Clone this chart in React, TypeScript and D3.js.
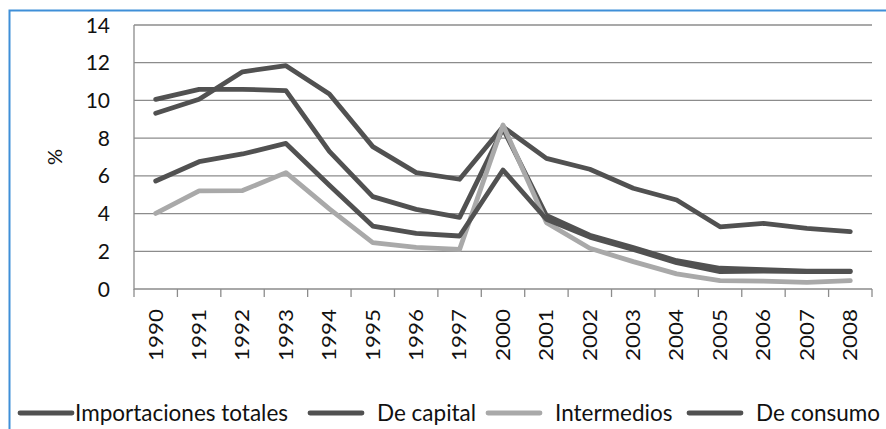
import React, { useEffect, useRef } from "react";
import * as d3 from "d3";

const years = ["1990", "1991", "1992", "1993", "1994", "1995", "1996", "1997", "2000", "2001", "2002", "2003", "2004", "2005", "2006", "2007", "2008"];

const totales = [10.06, 10.59, 10.59, 10.52, 7.3, 4.9, 4.22, 3.8, 8.5, 3.9, 2.85, 2.2, 1.5, 1.1, 1.02, 0.95, 0.95];
const capital = [9.32, 10.06, 11.52, 11.84, 10.34, 7.55, 6.17, 5.82, 8.6, 6.93, 6.35, 5.34, 4.72, 3.3, 3.48, 3.22, 3.04];
const intermedios = [4.01, 5.2, 5.22, 6.17, 4.25, 2.46, 2.21, 2.1, 8.7, 3.52, 2.16, 1.45, 0.8, 0.44, 0.42, 0.35, 0.44];
const consumo = [5.73, 6.75, 7.16, 7.72, 5.5, 3.34, 2.95, 2.81, 6.31, 3.7, 2.75, 2.1, 1.4, 0.92, 0.95, 0.92, 0.92];

const seriesNames = ["Importaciones totales", "De capital", "Intermedios", "De consumo"];
const yTicks = [0, 2, 4, 6, 8, 10, 12, 14];

const width = 886;
const height = 429;
const dark = "#515151";
const light = "#a9a9a9";
const font = "Lato, 'Open Sans', sans-serif";

const App = () => {
  const chart = useRef<SVGSVGElement>(null);

  useEffect(() => {
    const svg = d3.select(chart.current);
    svg.selectAll("*").remove();

    const series = [
      { name: seriesNames[0], values: totales, color: dark },
      { name: seriesNames[1], values: capital, color: dark },
      { name: seriesNames[2], values: intermedios, color: light },
      { name: seriesNames[3], values: consumo, color: dark }
    ];

    const x = d3.scaleBand().domain(years).range([134, 872]);
    const y = d3.scaleLinear().domain([0, 14]).range([289, 25]);

    // blue frame (only top and left edge visible)
    svg.append("path")
      .attr("d", `M9.5,${height} V10.5 H${width}`)
      .attr("fill", "none")
      .attr("stroke", "#3f8fd8")
      .attr("stroke-width", 2);

    // gridlines
    svg.append("g")
      .selectAll("line")
      .data(yTicks.slice(1))
      .join("line")
      .attr("x1", 134)
      .attr("x2", 872)
      .attr("y1", d => y(d))
      .attr("y2", d => y(d))
      .attr("stroke", "#8c8c8c")
      .attr("stroke-width", 1.3);

    // y labels
    svg.append("g")
      .selectAll("text")
      .data(yTicks)
      .join("text")
      .attr("x", 110)
      .attr("y", d => y(d))
      .attr("dy", "0.36em")
      .attr("text-anchor", "end")
      .attr("font-family", font)
      .attr("font-size", 21)
      .attr("fill", "#111")
      .text(d => d);

    // axes lines
    svg.append("path")
      .attr("d", `M134,25 V289 H872`)
      .attr("fill", "none")
      .attr("stroke", "#8c8c8c")
      .attr("stroke-width", 1.3);

    const edges = years.map(d => x(d)!).concat([872]);
    svg.append("g")
      .selectAll("line")
      .data(edges)
      .join("line")
      .attr("x1", d => d)
      .attr("x2", d => d)
      .attr("y1", 289)
      .attr("y2", 297)
      .attr("stroke", "#8c8c8c")
      .attr("stroke-width", 1.3);

    // x labels (stretched along the text, like the original)
    svg.append("g")
      .selectAll("text")
      .data(years)
      .join("text")
      .attr("transform", d => `translate(${x(d)! + x.bandwidth() / 2},309) rotate(-90) scale(1.18,1)`)
      .attr("text-anchor", "end")
      .attr("dy", "0.36em")
      .attr("font-family", font)
      .attr("font-size", 19)
      .attr("fill", "#111")
      .text(d => d);

    svg.append("text")
      .attr("transform", "translate(55,157) rotate(-90)")
      .attr("text-anchor", "middle")
      .attr("dy", "0.36em")
      .attr("font-family", font)
      .attr("font-size", 20)
      .attr("fill", "#111")
      .text("%");

    const line = d3.line<number>()
      .x((d, i) => x(years[i])! + x.bandwidth() / 2)
      .y(d => y(d));

    svg.append("g")
      .selectAll("path")
      .data(series)
      .join("path")
      .attr("d", d => line(d.values))
      .attr("fill", "none")
      .attr("stroke", d => d.color)
      .attr("stroke-width", 4.8)
      .attr("stroke-linejoin", "round")
      .attr("stroke-linecap", "round");

    // legend
    const legendX = [20, 310, 488, 689];
    const legend = svg.append("g")
      .selectAll("g")
      .data(series)
      .join("g")
      .attr("transform", (d, i) => `translate(${legendX[i]},413)`);

    legend.append("line")
      .attr("x1", 0)
      .attr("x2", 52)
      .attr("stroke", d => d.color)
      .attr("stroke-width", 4.8)
      .attr("stroke-linecap", "round");

    legend.append("text")
      .attr("x", (d, i) => (i === 0 ? 55 : 67))
      .attr("dy", "0.36em")
      .attr("font-family", font)
      .attr("font-size", 22.5)
      .attr("fill", "#111")
      .text(d => d.name);
  }, []);

  return (
    <svg
      ref={chart}
      width={width}
      height={height}
      viewBox={`0 0 ${width} ${height}`}
      style={{ position: "absolute", left: 0, top: 0, background: "#fff" }}
    ></svg>
  );
};

export default App;
